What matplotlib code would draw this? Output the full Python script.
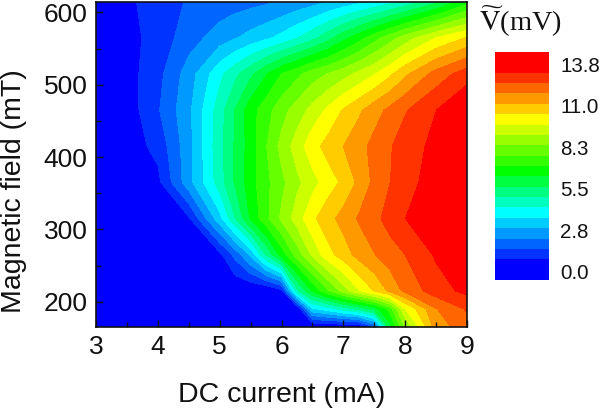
#!/usr/bin/env python3
"""Contour map of the detected voltage against DC current and magnetic field."""
import matplotlib
matplotlib.use("Agg")
import matplotlib.pyplot as plt
import numpy as np
from matplotlib.ticker import MultipleLocator

plt.rcParams["font.family"] = ["Liberation Sans", "DejaVu Sans"]
plt.rcParams["mathtext.fontset"] = "stix"

# ----- Data -----
current = [3, 3.5, 4, 4.5, 5, 5.25, 5.5, 5.75, 6, 6.25, 6.5, 6.75, 7, 7.25, 7.5, 7.75, 8, 8.5, 9]
field = [165, 190, 215, 265, 315, 365, 415, 465, 515, 565, 615]
voltage = [
    [0, 0, 0, 0, 0, 0, 0, 0, 0, 0, 0, 0, 0, 0, 1.4, 5.9, 8.3, 11.4, 12.1],
    [0, 0, 0, 0, 0, 0, 0, 0, 0, 0, 3.3, 3.8, 4.45, 5.0, 5.8, 7.2, 9.66, 11.7, 12.5],
    [0, 0, 0, 0, 0, 0, 0, 0, 0.5, 4.6, 6.3, 7.5, 8.6, 9.6, 10.4, 11.2, 11.9, 12.8, 13.3],
    [0, 0, 0, 0, 0.5, 1.6, 2.9, 4.85, 6.5, 7.9, 9.1, 10.1, 10.7, 11.3, 11.7, 12.1, 12.42, 13.2, 13.8],
    [0, 0, 0, 0.6, 3.2, 4.8, 6.3, 7.4, 8.4, 9.3, 10.2, 10.8, 11.3, 11.8, 12.2, 12.7, 13.1, 13.9, 14.3],
    [0, 0, 0.5, 2.5, 4.5, 5.6, 6.6, 7.4, 8.1, 8.8, 9.4, 10.0, 10.5, 11.2, 11.9, 12.4, 12.8, 13.5, 14.0],
    [0, 0.3, 0.9, 2.5, 4.6, 5.6, 6.55, 7.55, 8.5, 9.3, 10.1, 10.6, 11.04, 11.5, 11.93, 12.35, 12.77, 13.3, 13.8],
    [0.1, 0.3, 1.3, 2.6, 4.5, 5.55, 6.6, 7.3, 8.0, 8.6, 9.2, 9.8, 10.4, 10.9, 11.45, 11.9, 12.35, 13.1, 13.8],
    [0.1, 0.4, 1.15, 2.4, 3.95, 4.65, 5.35, 6.15, 6.9, 7.4, 7.95, 8.3, 8.7, 9.15, 9.6, 10.2, 10.9, 12.0, 12.8],
    [0.2, 0.45, 0.95, 1.75, 2.4, 2.7, 3.0, 3.3, 3.65, 4.1, 4.6, 5.25, 5.95, 6.6, 7.3, 7.95, 8.6, 9.66, 10.4],
    [0.2, 0.55, 1.0, 1.45, 1.65, 1.75, 1.85, 1.95, 2.1, 2.3, 2.5, 2.75, 3.0, 3.25, 3.5, 3.9, 4.3, 5.3, 6.6],
]
cbar_labels = ["0.0", "2.8", "5.5", "8.3", "11.0", "13.8"]

# ----- Colours, one per band -----
band_colors = [
    "#0000ff", "#0033ff", "#0066ff", "#0099ff", "#00ccff",
    "#00ffff", "#00ffbf", "#00ff80", "#00ff40", "#00ff00",
    "#33ff00", "#66ff00", "#99ff00", "#ccff00", "#ffff00",
    "#ffcc00", "#ff9900", "#ff6600", "#ff3300", "#ff0000",
]
levels = [-1] + [0.69 * k for k in range(1, 20)] + [20]
INK = "#111111"

fig = plt.figure(figsize=(6, 4.08), dpi=100)

# Main map
ax = fig.add_axes([96 / 600, 1 - 326.7 / 408, 371 / 600, 325.2 / 408])
ax.contourf(current, field, voltage, levels=levels, colors=band_colors, antialiased=False)
ax.set_xlim(3, 9)
ax.set_ylim(165.4, 615)
ax.xaxis.set_major_locator(MultipleLocator(1))
ax.xaxis.set_minor_locator(MultipleLocator(0.5))
ax.yaxis.set_major_locator(MultipleLocator(100))
ax.yaxis.set_minor_locator(MultipleLocator(50))
ax.tick_params(which="major", direction="in", length=5, width=1, labelsize=19, pad=6,
               color=INK, labelcolor=INK)
ax.tick_params(which="minor", direction="in", length=3.5, width=1, color=INK)
for spine in ax.spines.values():
    spine.set_linewidth(1.2)
    spine.set_color(INK)
ax.set_axisbelow(False)

fig.text(282 / 600, 1 - 402 / 408, "DC current (mA)", fontsize=20.5, color=INK,
         ha="center", va="baseline")
fig.text(21.5 / 600, 1 - 191 / 408, "Magnetic field (mT)", fontsize=20.5, color=INK,
         rotation=90, rotation_mode="anchor", ha="center", va="baseline")

# Colour scale: end bands are twice as tall as the others
cax = fig.add_axes([495 / 600, 1 - 280 / 408, 54 / 600, 228 / 408])
heights = [2] + [1] * 18 + [2]
bottoms = np.cumsum([0] + heights[:-1])
cax.bar(0, heights, bottom=bottoms, width=1, color=band_colors, linewidth=0)
cax.set_xlim(-0.5, 0.5)
cax.set_ylim(0, 22)
cax.set_xticks([])
cax.set_yticks([0.8, 4.8, 8.8, 12.8, 16.8, 20.8])
cax.set_yticklabels(cbar_labels)
cax.yaxis.tick_right()
cax.tick_params(axis="y", length=0, labelsize=14.8, pad=8, labelcolor=INK)
for spine in cax.spines.values():
    spine.set_visible(False)

fig.text(520 / 600, 1 - 21 / 408, r"$\widetilde{\mathrm{V}}$(mV)", fontsize=20.5,
         family="Liberation Serif", color=INK, ha="center", va="center")

fig.savefig("out.png", dpi=100)
